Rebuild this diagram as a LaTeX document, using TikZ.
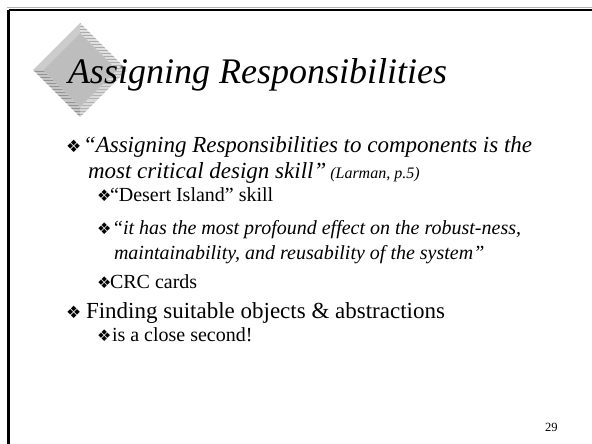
\documentclass[tikz,border=0pt]{standalone}
\usepackage{fontspec}
\setmainfont{Liberation Serif}
\newfontfamily\symfont{DejaVu Sans}
\begin{document}
\begin{tikzpicture}[x=1pt,y=-1pt,
  txt/.style={anchor=base west,inner sep=0pt,outer sep=0pt},
  lvlone/.style={txt,font=\fontsize{23}{26}\selectfont},
  lvloneit/.style={txt,font=\fontsize{23}{26}\selectfont\itshape},
  lvltwo/.style={txt,font=\fontsize{20}{23}\selectfont},
  lvltwoit/.style={txt,font=\fontsize{20}{23}\selectfont\itshape},
  bulletone/.style={txt,font=\symfont\fontsize{17}{19}\selectfont},
  bullettwo/.style={txt,font=\symfont\fontsize{16}{18}\selectfont},
  frameline/.style={line width=2.4pt,black}]
\useasboundingbox (0,0) rectangle (592,444);
\fill[white] (0,0) rectangle (592,444);

% slide frame: top and left rules
\draw[gray!60,line width=0.8pt] (7,7.6) -- (592,7.6);
\draw[frameline] (8.5,9.8) -- (592,9.8);
\draw[frameline] (8.5,9.8) -- (8.5,444);

% bevelled diamond ornament
\coordinate (T) at (80,23);  \coordinate (R) at (127,70);
\coordinate (B) at (80,117); \coordinate (L) at (33,70);
\coordinate (t) at (80,33);  \coordinate (r) at (117,70);
\coordinate (b) at (80,107); \coordinate (l) at (43,70);
\fill[gray!40] (L) -- (T) -- (t) -- (l) -- cycle;
\begin{scope}
  \clip (T) -- (R) -- (r) -- (t) -- cycle;
  \fill[gray!25] (T) -- (R) -- (r) -- (t) -- cycle;
  \foreach \yy in {24,27,...,72} \draw[gray!65,line width=1pt] (70,\yy) -- (130,\yy);
\end{scope}
\begin{scope}
  \clip (R) -- (B) -- (b) -- (r) -- cycle;
  \fill[gray!30] (R) -- (B) -- (b) -- (r) -- cycle;
  \foreach \yy in {69,72,...,120} \draw[gray!60,line width=1pt] (70,\yy) -- (130,\yy);
\end{scope}
\begin{scope}
  \clip (B) -- (L) -- (l) -- (b) -- cycle;
  \fill[gray!45] (B) -- (L) -- (l) -- (b) -- cycle;
  \foreach \yy in {69,72,...,120} \draw[gray!85,line width=1pt] (30,\yy) -- (90,\yy);
\end{scope}
\fill[gray!52] (t) -- (r) -- (b) -- (l) -- cycle;

% title
\node[txt,font=\fontsize{36}{40}\selectfont\itshape] (title) at (68,84) {Assigning Responsibilities};

% first level-one bullet
\node[bulletone] (b1) at (66,152) {❖};
\node[lvloneit] (l1a) at (83,152) {“Assigning Responsibilities to components is the};
\node[lvloneit] (l1b) at (88,178) {most critical design skill”\hspace{4pt}{\fontsize{16}{18}\selectfont(Larman, p.5)}};

% level-two bullets
\node[bullettwo] (b2) at (97,201) {❖};
\node[lvltwo] (l2) at (110,201) {“Desert Island” skill};
\node[bullettwo] (b3) at (97,234) {❖};
\node[lvltwoit] (l3a) at (112,234) {“it has the most profound effect on the robust-ness,};
\node[lvltwoit] (l3b) at (114,259) {maintainability, and reusability of the system”};
\node[bullettwo] (b4) at (97,288) {❖};
\node[lvltwo] (l4) at (110,288) {CRC cards};

% second level-one bullet
\node[bulletone] (b5) at (66,318) {❖};
\node[lvlone] (l5) at (86,318) {Finding suitable objects \& abstractions};
\node[bullettwo] (b6) at (97,341) {❖};
\node[lvltwo] (l6) at (112,341) {is a close second!};

% page number
\node[txt,font=\fontsize{12.5}{15}\selectfont] (pg) at (545,431) {29};
\end{tikzpicture}
\end{document}
